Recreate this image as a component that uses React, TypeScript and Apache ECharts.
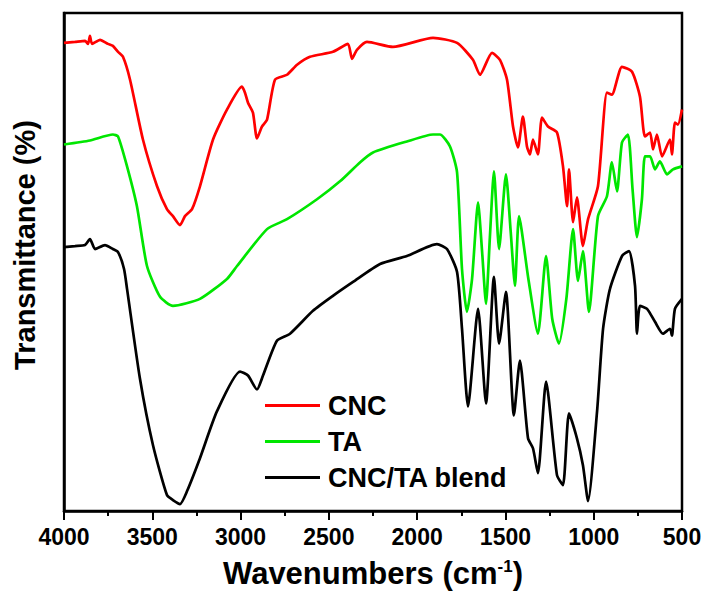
import React, { useEffect, useRef } from "react";
import * as echarts from "echarts";

const seriesNames = ["CNC", "TA", "CNC/TA blend"];
const seriesColors = ["#ff0000", "#00e600", "#000000"];

const xTicks = [500, 1000, 1500, 2000, 2500, 3000, 3500, 4000];

const cncWn = [4000,3938,3881,3864,3853,3841,3796,3751,3723,3694,3666,3626,3553,3473,3417,3383,3343,3315,3275,3230,3156,3077,2992,2975,2958,2930,2907,2879,2850,2805,2737,2680,2607,2477,2392,2369,2341,2284,2137,1910,1774,1684,1644,1576,1531,1491,1457,1429,1401,1378,1361,1344,1316,1293,1259,1208,1174,1151,1140,1117,1095,1061,1032,976,925,897,840,783,738,710,681,664,642,613,568,557,540,523,500];
const cncT = [94.0,94.2,94.4,93.8,95.4,93.8,94.6,93.8,93.4,92.2,91.2,86.6,74.6,65.2,60.6,59.2,57.4,59.2,60.6,65.2,74.6,80.6,85.2,84.0,82.0,80.0,74.8,77.2,78.6,86.6,87.6,89.6,91.2,92.2,93.8,90.8,92.6,94.2,93.2,95.0,94.0,90.6,87.6,92.0,90.6,86.6,77.2,73.0,79.2,73.2,71.6,74.6,71.6,79.0,77.2,76.0,69.2,61.2,68.6,58.0,63.0,53.2,58.6,65.2,84.0,83.6,89.2,88.2,83.2,75.2,76.0,72.6,75.6,71.2,74.6,71.6,78.0,77.6,80.6];

const taWn = [4000,3853,3723,3694,3643,3587,3530,3456,3383,3230,3077,3020,2850,2737,2567,2437,2324,2250,2058,1910,1871,1814,1774,1746,1718,1689,1655,1632,1610,1588,1565,1536,1497,1470,1446,1423,1370,1316,1270,1235,1197,1155,1117,1089,1061,1027,976,925,897,868,840,806,780,755,727,710,681,653,625,585,551,500];
const taT = [73.6,74.4,75.6,75.2,69.2,61.2,49.2,43.0,41.2,42.6,46.6,49.2,56.6,58.6,62.6,66.2,70.0,72.0,74.2,75.6,75.6,73.2,68.0,48.6,40.0,46.6,62.0,52.0,41.6,55.0,68.2,52.6,67.6,56.0,45.2,59.2,46.6,35.6,51.2,38.6,33.6,42.6,56.6,46.2,52.2,40.0,59.2,63.2,70.0,64.2,74.0,75.6,64.6,55.0,62.6,71.2,71.2,68.6,70.2,67.6,68.6,69.2];

const blendWn = [4000,3938,3881,3853,3824,3768,3723,3694,3660,3643,3570,3496,3417,3383,3343,3303,3230,3134,3003,2958,2907,2873,2794,2720,2590,2477,2363,2210,2058,1888,1831,1774,1746,1712,1655,1610,1565,1536,1497,1452,1418,1372,1344,1316,1270,1208,1174,1140,1095,1061,1032,981,947,908,840,800,766,755,738,698,653,608,568,557,540,500];
const blendT = [53.0,53.2,53.4,54.6,52.6,53.4,52.6,52.0,48.6,44.6,26.6,13.2,3.2,2.2,1.4,4.0,10.6,20.0,28.0,27.2,24.4,27.2,34.2,35.6,40.2,43.2,46.0,49.6,51.2,53.6,52.6,48.0,36.6,21.0,40.6,21.6,47.0,33.6,44.0,19.2,30.2,14.6,12.6,7.6,26.0,7.2,5.2,19.6,14.6,9.2,2.0,20.0,36.6,44.6,51.2,52.2,45.2,35.6,41.2,40.6,38.0,35.6,36.6,35.2,40.6,42.6];

const FONT = '"Liberation Sans", Arial, sans-serif';

function zip(xs: number[], ys: number[]) {
  return xs.map((x, i) => [x, ys[i]]);
}

export default function App() {
  const ref = useRef<HTMLDivElement>(null);
  useEffect(() => {
    if (!ref.current) return;
    const chart = echarts.init(ref.current, null, { renderer: "svg" });
    const datasets = [zip(cncWn, cncT), zip(taWn, taT), zip(blendWn, blendT)];
    chart.setOption({
      animation: false,
      grid: {
        left: 64,
        right: 25,
        top: 13,
        bottom: 81,
        show: true,
        borderColor: "#000",
        borderWidth: 2.5,
        backgroundColor: "transparent",
      },
      xAxis: {
        type: "value",
        inverse: true,
        min: xTicks[0],
        max: xTicks[xTicks.length - 1],
        interval: 500,
        axisLine: { show: true, onZero: false, lineStyle: { color: "#000", width: 2.5 } },
        axisTick: { show: true, inside: false, length: 9, lineStyle: { color: "#000", width: 2 } },
        minorTick: { show: true, splitNumber: 2, length: 5, lineStyle: { color: "#000", width: 2 } },
        splitLine: { show: false },
        minorSplitLine: { show: false },
        axisLabel: {
          color: "#000",
          fontSize: 23,
          fontWeight: "bold",
          fontFamily: FONT,
          margin: 14,
          formatter: (v: number) => String(v),
        },
        name: "Wavenumbers (cm{sup|-1})",
        nameLocation: "middle",
        nameGap: 47,
        nameTextStyle: {
          color: "#000",
          fontSize: 31,
          fontWeight: "bold",
          fontFamily: FONT,
          rich: {
            sup: {
              color: "#000",
              fontSize: 17,
              fontWeight: "bold",
              fontFamily: FONT,
              verticalAlign: "top",
              lineHeight: 14,
            },
          },
        },
      },
      yAxis: {
        type: "value",
        min: 0,
        max: 100,
        axisLine: { show: true, onZero: false, lineStyle: { color: "#000", width: 2.5 } },
        axisTick: { show: false },
        axisLabel: { show: false },
        splitLine: { show: false },
      },
      legend: {
        orient: "vertical",
        left: 265,
        top: 392,
        padding: 0,
        icon: "rect",
        itemWidth: 55,
        itemHeight: 3,
        itemGap: 9,
        data: seriesNames,
        textStyle: {
          color: "#000",
          fontSize: 27,
          fontWeight: "bold",
          fontFamily: FONT,
          lineHeight: 27,
          padding: [0, 0, 0, 3],
        },
      },
      graphic: [
        {
          type: "text",
          x: 25,
          y: 245,
          rotation: Math.PI / 2,
          style: {
            text: "Transmittance (%)",
            fill: "#000",
            fontSize: 29,
            fontWeight: "bold",
            fontFamily: FONT,
            align: "center",
            verticalAlign: "middle",
          },
        },
      ],
      series: seriesNames.map((name, i) => ({
        name,
        type: "line",
        data: datasets[i],
        showSymbol: false,
        symbol: "none",
        smooth: 0.2,
        lineStyle: { color: seriesColors[i], width: 2.7 },
        itemStyle: { color: seriesColors[i] },
        z: 3 - i,
      })),
    });
    return () => chart.dispose();
  }, []);
  return (
    <div
      ref={ref}
      style={{ position: "absolute", left: 0, top: 0, width: 707, height: 594 }}
    />
  );
}
